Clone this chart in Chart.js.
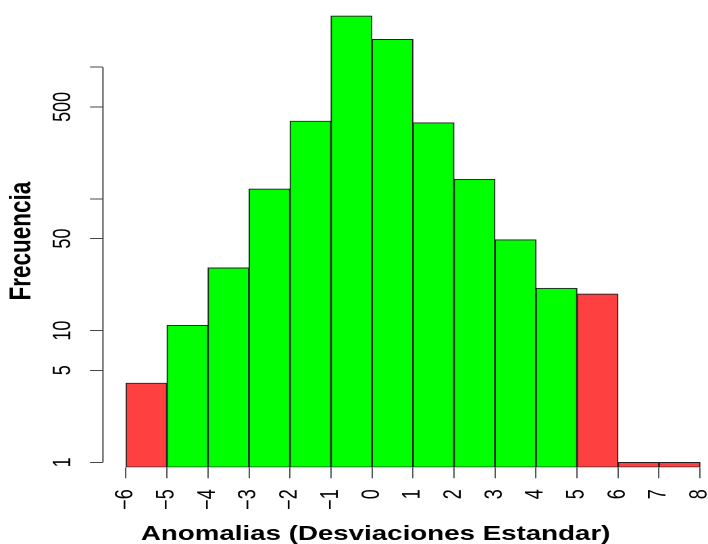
<!DOCTYPE html>
<html>
<head>
<meta charset="utf-8">
<script src="https://cdn.jsdelivr.net/npm/chart.js@4"></script>
<style>
  html, body { margin: 0; padding: 0; background: #fff; overflow: hidden; }
  #histo { display: block; }
</style>
</head>
<body>
<!-- el original esta estirado en horizontal, asi que se dibuja a 524 px y se estira a 708 -->
<canvas id="histo" width="524" height="544" style="width:708px;height:544px"></canvas>
<script>
// Histograma de anomalias, eje y logaritmico
const binStart = [-6, -5, -4, -3, -2, -1, 0, 1, 2, 3, 4, 5, 6, 7];
const counts = [4, 11, 30, 119, 390, 2448, 1629, 379, 141, 49, 21, 19, 1, 1];
const isExtreme = [true, false, false, false, false, false, false, false, false, false, false, true, true, true];
const xTicks = [-6, -5, -4, -3, -2, -1, 0, 1, 2, 3, 4, 5, 6, 7, 8];
const yTicks = [1, 5, 10, 50, 100, 500, 1000];
const yTickLabels = ["1", "5", "10", "50", "", "500", ""];

const FONT = "'Liberation Sans', Arial, sans-serif";

// eje y a mano: linea solo de 1 a 1000 y etiquetas giradas; titulo del eje x
const axisExtras = {
  id: "axisExtras",
  afterDraw(chart) {
    const { ctx, chartArea, scales } = chart;
    const y = scales.y;
    ctx.save();
    ctx.strokeStyle = "#444";
    ctx.lineWidth = 1;
    ctx.beginPath();
    ctx.moveTo(chartArea.left, y.getPixelForValue(yTicks[yTicks.length - 1]));
    ctx.lineTo(chartArea.left, y.getPixelForValue(yTicks[0]));
    ctx.stroke();

    ctx.fillStyle = "#000";
    ctx.font = "18px " + FONT;
    ctx.textAlign = "center";
    ctx.textBaseline = "middle";
    yTicks.forEach((v, i) => {
      if (!yTickLabels[i]) return;
      ctx.save();
      ctx.translate(chartArea.left - 29, y.getPixelForValue(v));
      ctx.rotate(-Math.PI / 2);
      ctx.fillText(yTickLabels[i], 0, 0);
      ctx.restore();
    });

    ctx.font = "bold 20.5px " + FONT;
    ctx.textAlign = "center";
    ctx.textBaseline = "alphabetic";
    ctx.fillText("Anomalias (Desviaciones Estandar)", 278, 540);
    ctx.restore();
  }
};

new Chart(document.getElementById("histo"), {
  type: "bar",
  data: {
    datasets: [{
      data: binStart.map((b, i) => ({ x: b + 0.5, y: counts[i] })),
      backgroundColor: isExtreme.map(e => (e ? "#ff4040" : "#00ff00")),
      borderColor: "#222",
      borderWidth: 1,
      borderSkipped: false,
      barPercentage: 1,
      categoryPercentage: 1
    }]
  },
  options: {
    responsive: false,
    devicePixelRatio: 2,
    animation: false,
    layout: { padding: { top: 15, right: 0, bottom: 0, left: 0 } },
    plugins: { legend: { display: false }, tooltip: { enabled: false } },
    scales: {
      x: {
        type: "linear",
        min: -6.561,
        max: 8.195,
        offset: false,
        afterBuildTicks: s => { s.ticks = xTicks.map(v => ({ value: v })); },
        afterFit: s => { s.height = 76.7; s.paddingLeft = 0; s.paddingRight = 0; },
        grid: { drawOnChartArea: false, drawTicks: true, tickLength: 11, color: "#555", offset: false },
        border: { display: false },
        ticks: {
          autoSkip: false,
          minRotation: 90,
          maxRotation: 90,
          padding: 11,
          color: "#000",
          font: { family: FONT, size: 18 },
          callback: v => (v < 0 ? "\u2212" + Math.abs(v) : String(v))
        }
      },
      y: {
        type: "logarithmic",
        min: 0.9165,
        max: 2491,
        afterBuildTicks: s => { s.ticks = yTicks.map(v => ({ value: v })); },
        afterFit: s => { s.width = 76.2; },
        grid: { drawOnChartArea: false, tickLength: 9.6, color: "#444" },
        border: { display: false },
        ticks: { display: false },
        title: {
          display: true,
          text: "Frecuencia",
          color: "#000",
          font: { family: FONT, size: 22.5, weight: "bold" },
          padding: { top: 3, bottom: 0 }
        }
      }
    }
  },
  plugins: [axisExtras]
});
</script>
</body>
</html>
